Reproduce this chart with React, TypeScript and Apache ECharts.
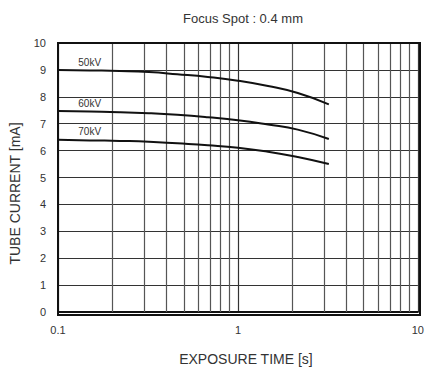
import React, { useEffect, useRef } from "react";
import * as echarts from "echarts";

const times = [0.1, 0.15, 0.22, 0.32, 0.46, 0.68, 1.0, 1.47, 2.15, 3.2];
const current50 = [9.0, 8.98, 8.96, 8.92, 8.84, 8.74, 8.6, 8.4, 8.14, 7.72];
const current60 = [7.47, 7.45, 7.43, 7.39, 7.33, 7.24, 7.13, 6.97, 6.78, 6.43];
const current70 = [6.4, 6.38, 6.36, 6.33, 6.27, 6.2, 6.11, 5.96, 5.76, 5.5];
const seriesNames = ["50kV", "60kV", "70kV"];
const labelTimes = [0.15, 0.15, 0.15];
const labelCurrents = [9.26, 7.74, 6.7];
const minorGridTimes = [0.2, 0.3, 0.4, 0.5, 0.6, 0.7, 0.8, 0.9, 2, 3, 4, 5, 6, 7, 8, 9];
const xTickLabels = ["0.1", "1", "10"];
const yTickValues = [0, 1, 2, 3, 4, 5, 6, 7, 8, 9, 10];

const FONT = "Liberation Sans, Arial, sans-serif";

export default function App() {
  const ref = useRef<HTMLDivElement>(null);
  useEffect(() => {
    if (!ref.current) return;
    const chart = echarts.init(ref.current, undefined, { renderer: "svg" });
    const allCurrents = [current50, current60, current70];
    const series: any[] = allCurrents.map((vals, i) => ({
      name: seriesNames[i],
      type: "line",
      smooth: 0.5,
      symbol: "none",
      lineStyle: { color: "#111", width: 2 },
      data: times.map((t, j) => [t, vals[j]]),
      markPoint: {
        symbol: "circle",
        symbolSize: 0,
        silent: true,
        label: {
          show: true,
          formatter: seriesNames[i],
          color: "#333",
          fontSize: 10,
          fontFamily: FONT,
          position: "inside",
        },
        data: [{ coord: [labelTimes[i], labelCurrents[i]] }],
      },
      z: 5,
    }));
    series.push({
      type: "line",
      data: [],
      markLine: {
        silent: true,
        symbol: "none",
        label: { show: false },
        lineStyle: { color: "#555", width: 1.2, type: "solid" },
        data: minorGridTimes.map((t) => ({ xAxis: t })),
      },
      z: 1,
    });
    chart.setOption({
      animation: false,
      title: {
        text: "Focus Spot : 0.4 mm",
        left: 238,
        top: 7,
        textAlign: "center",
        textStyle: { fontSize: 13, fontWeight: "normal", color: "#333", fontFamily: FONT },
      },
      grid: { left: 58, right: 7, top: 43, bottom: 56 },
      xAxis: {
        type: "log",
        logBase: 10,
        min: 0.1,
        max: 10,
        name: "EXPOSURE TIME [s]",
        nameLocation: "middle",
        nameGap: 40,
        nameTextStyle: { fontSize: 14, color: "#333", fontFamily: FONT, padding: [0, 0, 0, 16] },
        axisLine: { show: true, lineStyle: { color: "#111", width: 2 } },
        axisTick: { show: false },
        axisLabel: {
          color: "#333",
          fontSize: 11,
          fontFamily: FONT,
          margin: 12,
          formatter: (v: number) => {
            const s = String(v);
            return xTickLabels.includes(s) ? s : "";
          },
        },
        splitLine: { show: true, lineStyle: { color: "#333", width: 1.2 } },
      },
      yAxis: {
        type: "value",
        min: 0,
        max: 10,
        interval: 1,
        name: "TUBE CURRENT [mA]",
        nameLocation: "middle",
        nameGap: 36,
        nameTextStyle: { fontSize: 14, color: "#333", fontFamily: FONT, padding: [0, 32, 0, 0] },
        axisLine: { show: true, lineStyle: { color: "#111", width: 2 } },
        axisTick: { show: false },
        axisLabel: {
          color: "#333",
          fontSize: 11,
          fontFamily: FONT,
          margin: 12,
          formatter: (v: number) => (yTickValues.includes(v) ? String(v) : ""),
        },
        splitLine: { show: true, lineStyle: { color: "#333", width: 1.2 } },
      },
      series,
      graphic: [
        {
          type: "rect",
          shape: { x: 58, y: 43, width: 362, height: 272 },
          style: { fill: "none", stroke: "#111", lineWidth: 2 },
          z: 10,
          silent: true,
        },
      ],
    });
    return () => chart.dispose();
  }, []);
  return (
    <div
      ref={ref}
      style={{ position: "fixed", left: 0, top: 0, width: 427, height: 371, background: "#fff" }}
    />
  );
}
